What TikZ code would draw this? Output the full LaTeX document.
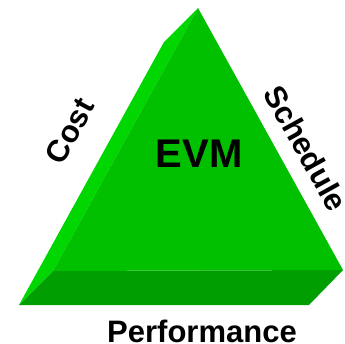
\documentclass[tikz,border=0pt]{standalone}
\usepackage{fontspec}
\setmainfont{Liberation Sans}
\usetikzlibrary{positioning}

\definecolor{facegreen}{RGB}{0,192,0}
\definecolor{sidegreen}{RGB}{0,214,0}
\definecolor{basegreen}{RGB}{0,158,0}

\begin{document}
\begin{tikzpicture}[x=1pt,y=-1pt,
    side/.style={font=\bfseries\fontsize{31}{31}\selectfont,inner sep=0pt},
    centre/.style={font=\bfseries\fontsize{40}{40}\selectfont,inner sep=0pt}]
    \useasboundingbox (0,0) rectangle (345,343);
    % front triangle and its copy shifted back
    \coordinate (top) at (198,8);
    \coordinate (bl) at (53,271);
    \coordinate (br) at (343,270);
    \coordinate (top2) at (164,42);
    \coordinate (bl2) at (19,305);
    \coordinate (br2) at (309,305);
    %Left bevel
    \fill[sidegreen] (top2) -- (top) -- (bl) -- (bl2) -- cycle;
    %Bottom band
    \fill[basegreen] (bl) -- (br) -- (br2) -- (bl2) -- cycle;
    %Front face
    \fill[facegreen] (top) -- (bl) -- (br) -- cycle;
    \node[centre] (evm) at (199,154) {EVM};
    \node[side,rotate=61.5] (cost) at (70,131) {Cost};
    \node[side,rotate=-61] (sched) at (306,148) {Schedule};
    \node[side] (perf) at (202,331) {Performance};
\end{tikzpicture}
\end{document}
